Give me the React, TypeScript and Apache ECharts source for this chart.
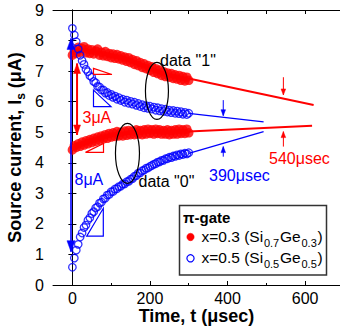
import React, { useEffect, useRef } from 'react';
import * as echarts from 'echarts';

const FONT = '"Liberation Sans", Arial, Helvetica, sans-serif';
const RED = '#ff0000';
const BLUE = '#0000ff';

// time samples (µs)
const times = [
  0, 5, 10, 15, 20, 25, 30, 35, 40, 45,
  50, 55, 60, 65, 70, 75, 80, 85, 90, 95,
  100, 105, 110, 115, 120, 125, 130, 135, 140, 145,
  150, 155, 160, 165, 170, 175, 180, 185, 190, 195,
  200, 205, 210, 215, 220, 225, 230, 235, 240, 245,
  250, 255, 260, 265, 270, 275, 280, 285, 290, 295,
  300,
];

// x=0.3 (Si0.7Ge0.3), data "1"
const red1 = [
  7.52, 7.68, 7.58, 7.78, 7.62, 7.74, 7.80, 7.60, 7.72, 7.58,
  7.70, 7.56, 7.66, 7.72, 7.52, 7.62, 7.50, 7.64, 7.48, 7.58,
  7.44, 7.56, 7.42, 7.54, 7.40, 7.50, 7.36, 7.46, 7.32, 7.44,
  7.28, 7.38, 7.22, 7.34, 7.18, 7.28, 7.12, 7.24, 7.08, 7.18,
  7.02, 7.14, 6.96, 7.08, 6.92, 7.04, 6.86, 6.98, 6.82, 6.94,
  6.80, 6.92, 6.76, 6.88, 6.74, 6.86, 6.70, 6.82, 6.68, 6.80,
  6.70,
];
// x=0.3, data "0"
const red0 = [
  4.42, 4.56, 4.50, 4.62, 4.54, 4.68, 4.58, 4.72, 4.62, 4.76,
  4.66, 4.80, 4.70, 4.84, 4.74, 4.88, 4.78, 4.92, 4.80, 4.96,
  4.84, 4.98, 4.86, 5.02, 4.88, 5.00, 4.88, 5.04, 4.90, 5.06,
  4.92, 5.04, 4.92, 5.08, 4.94, 5.06, 4.92, 5.08, 4.94, 5.10,
  4.96, 5.08, 4.94, 5.10, 4.96, 5.08, 4.94, 5.06, 4.94, 5.08,
  4.92, 5.06, 4.94, 5.08, 4.94, 5.10, 4.96, 5.08, 4.96, 5.10,
  4.98,
];
// x=0.5 (Si0.5Ge0.5), data "1"
const blue1 = [
  8.40, 8.18, 7.96, 7.72, 7.52, 7.34, 7.22, 7.06, 6.98, 6.85,
  6.80, 6.66, 6.62, 6.50, 6.48, 6.38, 6.38, 6.28, 6.30, 6.20,
  6.24, 6.14, 6.18, 6.08, 6.13, 6.04, 6.08, 5.98, 6.05, 5.95,
  6.01, 5.92, 5.98, 5.88, 5.94, 5.84, 5.90, 5.80, 5.87, 5.78,
  5.85, 5.76, 5.82, 5.72, 5.80, 5.70, 5.77, 5.68, 5.75, 5.66,
  5.72, 5.64, 5.71, 5.62, 5.69, 5.61, 5.67, 5.59, 5.65, 5.58,
  5.62,
];
// x=0.5, data "0"
const blue0 = [
  0.58, 0.88, 1.14, 1.33, 1.57, 1.70, 1.88, 1.96, 2.12, 2.20,
  2.34, 2.40, 2.52, 2.56, 2.68, 2.71, 2.82, 2.84, 2.94, 2.96,
  3.05, 3.06, 3.14, 3.15, 3.22, 3.23, 3.30, 3.31, 3.38, 3.39,
  3.46, 3.48, 3.56, 3.58, 3.66, 3.67, 3.74, 3.76, 3.82, 3.83,
  3.88, 3.91, 3.95, 3.97, 4.02, 4.03, 4.08, 4.08, 4.13, 4.13,
  4.18, 4.17, 4.22, 4.21, 4.26, 4.24, 4.29, 4.27, 4.31, 4.29,
  4.33,
];

// extrapolated fits [t, I]
const red1Fit = [[300, 6.76], [622, 5.89]];
const red0Fit = [[300, 5.02], [618, 5.21]];
const blue1Fit = [[300, 5.62], [493, 5.34]];
const blue0Fit = [[300, 4.31], [493, 5.02]];

// axis ticks
const xLabelValues = [0, 200, 400, 600];
const xMinorTicks = [100, 300, 500];
const xTopTicks = [0, 100, 200, 300, 400, 500, 600];

// legend entries: [main, sub, main, sub, main]
const legendRed = ['x=0.3 (Si', '0.7', 'Ge', '0.3', ')'];
const legendBlue = ['x=0.5 (Si', '0.5', 'Ge', '0.5', ')'];

// annotations in data coordinates
const bigBlueArrow = [[-3.6, 1.09], [-3.6, 8.07]];
const bigRedArrow = [[12, 4.91], [12, 7.25]];
const smallArrows = [
  { from: [544, 6.8], to: [544, 6.22], color: RED },
  { from: [544, 4.53], to: [544, 5.02], color: RED },
  { from: [389, 6.05], to: [389, 5.54], color: BLUE },
  { from: [389, 4.2], to: [389, 4.53], color: BLUE },
];
const ellipses = [
  { c: [218, 6.35], rx: 11.5, ry: 28.5 },
  { c: [142, 4.31], rx: 12, ry: 30 },
];
const triangles = [
  { pts: [[54.4, 7.09], [54.4, 6.89], [102, 6.89]], color: RED },
  { pts: [[54.4, 6.38], [54.4, 5.84], [99.5, 5.84]], color: BLUE },
  { pts: [[33.8, 4.34], [80.2, 4.34], [80.2, 4.63]], color: RED },
  { pts: [[36.9, 1.6], [79.7, 1.6], [79.7, 2.51]], color: BLUE },
];

const zip = (xs: number[], ys: number[]) => xs.map((x, i) => [x, ys[i]]);

function renderAnnotations(params: any, api: any) {
  const P = (d: number[]) => api.coord(d);
  const children: any[] = [];
  const seg = (a: number[], b: number[], color: string, w: number) => ({
    type: 'line',
    shape: { x1: a[0], y1: a[1], x2: b[0], y2: b[1] },
    style: { stroke: color, lineWidth: w },
  });
  const head = (tip: number[], from: number[], len: number, hw: number, color: string) => {
    const dx = tip[0] - from[0];
    const dy = tip[1] - from[1];
    const L = Math.sqrt(dx * dx + dy * dy) || 1;
    const ux = dx / L, uy = dy / L;
    const bx = tip[0] - ux * len, by = tip[1] - uy * len;
    return {
      type: 'polygon',
      shape: { points: [[tip[0], tip[1]], [bx - uy * hw, by + ux * hw], [bx + uy * hw, by - ux * hw]] },
      style: { fill: color, stroke: color, lineWidth: 0.5 },
    };
  };
  {
    const a = P(bigBlueArrow[0]), b = P(bigBlueArrow[1]);
    children.push(seg(a, b, BLUE, 1.6));
    children.push(head(a, b, 11, 4, BLUE));
    children.push(head(b, a, 11, 4, BLUE));
  }
  {
    const a = P(bigRedArrow[0]), b = P(bigRedArrow[1]);
    children.push(seg(a, b, RED, 2));
    children.push(head(a, b, 10, 3.5, RED));
    children.push(head(b, a, 10, 3.5, RED));
  }
  smallArrows.forEach((s) => {
    const a = P(s.from), b = P(s.to);
    children.push(seg(a, b, s.color, 1));
    children.push(head(b, a, 6, 2.3, s.color));
  });
  ellipses.forEach((e) => {
    const c = P(e.c);
    children.push({
      type: 'ellipse',
      shape: { cx: c[0], cy: c[1], rx: e.rx, ry: e.ry },
      style: { fill: 'none', stroke: '#000', lineWidth: 1.2 },
    });
  });
  triangles.forEach((t) => {
    children.push({
      type: 'polygon',
      shape: { points: t.pts.map((p) => P(p)) },
      style: { fill: 'none', stroke: t.color, lineWidth: 1.2 },
    });
  });
  return { type: 'group', children };
}

const fontStr = (size: number, weight = 'normal') => `${weight} ${size}px ${FONT}`;

const txt = (text: string, x: number, y: number, color: string, size: number, weight = 'normal') => ({
  type: 'text',
  x,
  y,
  z: 100,
  style: {
    text,
    fill: color,
    font: fontStr(size, weight),
    fontSize: size,
    fontFamily: FONT,
    fontWeight: weight,
    textAlign: 'left',
    textVerticalAlign: 'middle',
  },
});

let measureCtx: CanvasRenderingContext2D | null = null;
function measure(text: string, size: number) {
  if (!measureCtx) measureCtx = document.createElement('canvas').getContext('2d');
  if (!measureCtx) return text.length * size * 0.55;
  measureCtx.font = fontStr(size);
  return measureCtx.measureText(text).width;
}

function legendLine(parts: string[], x0: number, y: number) {
  const MAIN = 15.5, SUB = 11;
  const els: any[] = [];
  let x = x0;
  parts.forEach((p, i) => {
    const isSub = i % 2 === 1;
    const size = isSub ? SUB : MAIN;
    if (isSub) x += 0.8;
    els.push(txt(p, x, isSub ? y + 6 : y, '#000', size));
    x += measure(p, size) + (isSub ? 0.8 : 0);
  });
  return els;
}

export default function App() {
  const ref = useRef<HTMLDivElement>(null);
  useEffect(() => {
    if (!ref.current) return;
    const chart = echarts.init(ref.current, null, { renderer: 'svg' });
    const axisLine = { show: true, lineStyle: { color: '#000', width: 1 } };
    const option: any = {
      animation: false,
      grid: { left: 53, right: 0, top: 10, bottom: 41, containLabel: false, outerBoundsMode: 'none' },
      xAxis: [
        {
          type: 'value', min: -50, max: 690, position: 'bottom',
          axisLine,
          axisTick: { show: true, inside: true, length: 4, customValues: xLabelValues, lineStyle: { color: '#000' } },
          axisLabel: { customValues: xLabelValues, fontSize: 16, color: '#000', fontFamily: FONT, margin: 5 },
          splitLine: { show: false },
          name: 'Time, t (μsec)', nameLocation: 'middle', nameGap: 22, nameMoveOverlap: false,
          nameTextStyle: { fontSize: 18, fontWeight: 'bold', color: '#000', fontFamily: FONT },
        },
        {
          type: 'value', min: -50, max: 690, position: 'bottom',
          axisLine: { show: false },
          axisTick: { show: true, inside: true, length: 2, customValues: xMinorTicks, lineStyle: { color: '#000' } },
          axisLabel: { show: false },
          splitLine: { show: false },
        },
        {
          type: 'value', min: -50, max: 690, position: 'top',
          axisLine,
          axisTick: { show: true, inside: true, length: 4, customValues: xTopTicks, lineStyle: { color: '#000' } },
          axisLabel: { show: false },
          splitLine: { show: false },
        },
      ],
      yAxis: [
        {
          type: 'value', min: 0, max: 9, interval: 1, position: 'left',
          axisLine,
          axisTick: { show: true, inside: true, length: 4, lineStyle: { color: '#000' } },
          axisLabel: { fontSize: 16, color: '#000', fontFamily: FONT, margin: 9 },
          splitLine: { show: false },
          name: 'Source current, I{s|s} (μA)', nameLocation: 'middle', nameGap: 26, nameMoveOverlap: false,
          nameTextStyle: {
            fontSize: 18, fontWeight: 'bold', color: '#000', fontFamily: FONT, lineHeight: 24,
            rich: { s: { fontSize: 12, fontWeight: 'bold', color: '#000', fontFamily: FONT, lineHeight: 12, verticalAlign: 'bottom' } },
          },
        },
        {
          type: 'value', min: 0, max: 9, interval: 1, position: 'right',
          axisLine,
          axisTick: { show: true, inside: true, length: 4, lineStyle: { color: '#000' } },
          axisLabel: { show: false },
          splitLine: { show: false },
        },
      ],
      series: [
        { type: 'scatter', name: 'x=0.3 "1"', data: zip(times, red1), symbol: 'circle', symbolSize: 9.5, itemStyle: { color: RED }, silent: true },
        { type: 'scatter', name: 'x=0.3 "0"', data: zip(times, red0), symbol: 'circle', symbolSize: 9.5, itemStyle: { color: RED }, silent: true },
        { type: 'scatter', name: 'x=0.5 "1"', data: zip(times, blue1), symbol: 'circle', symbolSize: 7.5, itemStyle: { color: 'rgba(255,255,255,0)', borderColor: BLUE, borderWidth: 1.3 }, silent: true },
        { type: 'scatter', name: 'x=0.5 "0"', data: zip(times, blue0), symbol: 'circle', symbolSize: 7.5, itemStyle: { color: 'rgba(255,255,255,0)', borderColor: BLUE, borderWidth: 1.3 }, silent: true },
        { type: 'line', data: red1Fit, showSymbol: false, lineStyle: { color: RED, width: 2 }, silent: true },
        { type: 'line', data: red0Fit, showSymbol: false, lineStyle: { color: RED, width: 2 }, silent: true },
        { type: 'line', data: blue1Fit, showSymbol: false, lineStyle: { color: BLUE, width: 1.3 }, silent: true },
        { type: 'line', data: blue0Fit, showSymbol: false, lineStyle: { color: BLUE, width: 1.3 }, silent: true },
        { type: 'custom', data: [[0, 0]], renderItem: renderAnnotations, clip: false, silent: true, z: 10 },
      ],
      graphic: [
        txt('3μA', 82.5, 117.5, RED, 16),
        txt('8μA', 74.5, 179.5, BLUE, 16),
        txt('data "1"', 160, 60, '#000', 16),
        txt('data "0"', 138.5, 181.5, '#000', 16),
        txt('540μsec', 269, 158, RED, 16),
        txt('390μsec', 209, 175, BLUE, 16),
        {
          type: 'rect', z: 90,
          shape: { x: 179.5, y: 205.5, width: 147, height: 69.5 },
          style: { fill: '#fff', stroke: '#333', lineWidth: 1.5 },
        },
        txt('π-gate', 183, 217, '#000', 15, 'bold'),
        { type: 'circle', z: 100, shape: { cx: 190.5, cy: 237, r: 3.7 }, style: { fill: RED, stroke: RED, lineWidth: 0.5 } },
        { type: 'circle', z: 100, shape: { cx: 190.5, cy: 258.3, r: 3.6 }, style: { fill: '#fff', stroke: BLUE, lineWidth: 1.2 } },
        ...legendLine(legendRed, 201.5, 236.5),
        ...legendLine(legendBlue, 201.5, 257.8),
      ],
    };
    chart.setOption(option);
    return () => chart.dispose();
  }, []);
  return (
    <div
      ref={ref}
      style={{ position: 'fixed', left: 0, top: 0, width: 340, height: 326, background: '#fff' }}
    />
  );
}
